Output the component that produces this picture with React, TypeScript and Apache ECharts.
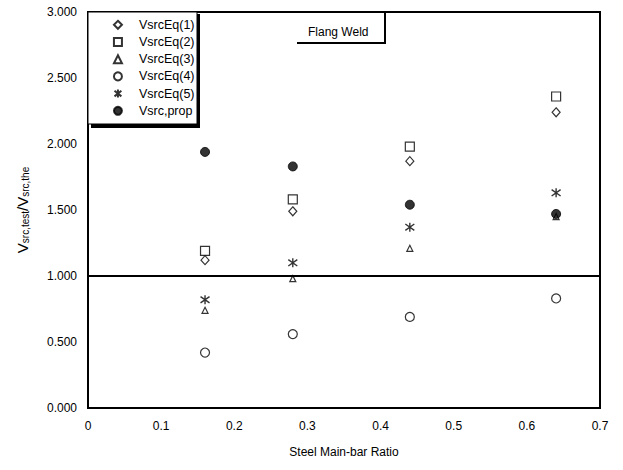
import React, { useEffect, useRef } from "react";
import * as echarts from "echarts";

const ratios = [0.16, 0.28, 0.44, 0.64];
const eq1 = [1.12, 1.49, 1.87, 2.24];
const eq2 = [1.19, 1.58, 1.98, 2.36];
const eq3 = [0.74, 0.98, 1.21, 1.45];
const eq4 = [0.42, 0.56, 0.69, 0.83];
const eq5 = [0.82, 1.10, 1.37, 1.63];
const prop = [1.94, 1.83, 1.54, 1.47];
const seriesNames = ["VsrcEq(1)", "VsrcEq(2)", "VsrcEq(3)", "VsrcEq(4)", "VsrcEq(5)", "Vsrc,prop"];
const xTicks = [0, 0.1, 0.2, 0.3, 0.4, 0.5, 0.6, 0.7];
const yTicks = [0, 0.5, 1, 1.5, 2, 2.5, 3];
const refValue = 1.0;
const titleText = "Flang Weld";
const xName = "Steel Main-bar Ratio";

const FONT = "'Liberation Sans', Arial, sans-serif";
const ASTERISK = "path://M5 0 L5 10 M0.7 1.5 L9.3 8.5 M0.7 8.5 L9.3 1.5";

export default function App() {
  const ref = useRef<HTMLDivElement>(null);
  useEffect(() => {
    if (!ref.current) return;
    const chart = echarts.init(ref.current, undefined, { renderer: "svg" });
    const open = { color: "#fff", borderColor: "#000", borderWidth: 1.2 };
    const values = [eq1, eq2, eq3, eq4, eq5, prop];
    const symbols = ["diamond", "rect", "triangle", "circle", ASTERISK, "circle"];
    const sizes = [[8, 9], 9, 6, 9, 9, 9];
    const styles = [
      open,
      open,
      open,
      open,
      { color: "none", borderColor: "#000", borderWidth: 1.4 },
      { color: "#000", borderColor: "#000", borderWidth: 1 },
    ];
    const series: any[] = values.map((vals, i) => ({
      type: "scatter",
      name: seriesNames[i],
      data: ratios.map((r, j) => [r, vals[j]]),
      symbol: symbols[i],
      symbolSize: sizes[i],
      itemStyle: styles[i],
      z: 3,
    }));
    series[0].markLine = {
      silent: true,
      symbol: "none",
      label: { show: false },
      lineStyle: { color: "#000", width: 2, type: "solid" },
      data: [{ yAxis: refValue }],
    };
    chart.setOption({
      animation: false,
      backgroundColor: "#fff",
      grid: {
        left: 88,
        right: 23,
        top: 12,
        bottom: 62,
        show: true,
        borderColor: "#000",
        borderWidth: 2,
        backgroundColor: "transparent",
      },
      xAxis: {
        type: "value",
        min: xTicks[0],
        max: xTicks[xTicks.length - 1],
        interval: 0.1,
        axisLine: { show: false },
        axisTick: { show: false },
        splitLine: { show: false },
        axisLabel: { color: "#000", fontFamily: FONT, fontSize: 12, margin: 12 },
        name: xName,
        nameLocation: "middle",
        nameGap: 38,
        nameTextStyle: { color: "#000", fontFamily: FONT, fontSize: 12 },
      },
      yAxis: {
        type: "value",
        min: yTicks[0],
        max: yTicks[yTicks.length - 1],
        interval: 0.5,
        axisLine: { show: false },
        axisTick: { show: false },
        splitLine: { show: false },
        axisLabel: {
          color: "#000",
          fontFamily: FONT,
          fontSize: 12,
          margin: 11,
          formatter: (v: number) => v.toFixed(3),
        },
        name: "V{s|src,test}/V{s|src,the}",
        nameLocation: "middle",
        nameGap: 58,
        nameTextStyle: {
          color: "#000",
          fontFamily: FONT,
          fontSize: 15,
          rich: {
            s: { fontFamily: FONT, fontSize: 10, color: "#000", verticalAlign: "bottom", padding: [6, 0, 0, 0] },
          },
        },
      },
      legend: {
        orient: "vertical",
        left: 112,
        top: 18,
        padding: 0,
        itemWidth: 8,
        itemHeight: 8,
        itemGap: 3.6,
        data: seriesNames,
        textStyle: { color: "#000", fontFamily: FONT, fontSize: 12.5, lineHeight: 13.6, padding: [0, 0, 0, 12] },
        z: 6,
      },
      graphic: [
        { type: "rect", z: 4, shape: { x: 91, y: 14, width: 109, height: 114 }, style: { fill: "#000" } },
        {
          type: "rect",
          z: 5,
          shape: { x: 88, y: 12, width: 109, height: 112 },
          style: { fill: "#fff", stroke: "#000", lineWidth: 1 },
        },
        {
          type: "line",
          z: 5,
          shape: { x1: 385, y1: 13, x2: 385, y2: 44 },
          style: { stroke: "#000", lineWidth: 2 },
        },
        {
          type: "line",
          z: 5,
          shape: { x1: 297, y1: 43, x2: 386, y2: 43 },
          style: { stroke: "#000", lineWidth: 2 },
        },
        {
          type: "text",
          z: 6,
          x: 308,
          y: 32,
          style: { text: titleText, fill: "#000", font: `12px ${FONT}`, verticalAlign: "middle" },
        },
      ],
      series,
    });
    return () => chart.dispose();
  }, []);
  return (
    <div
      ref={ref}
      style={{ position: "fixed", left: 0, top: 0, width: 623, height: 470 }}
    />
  );
}
